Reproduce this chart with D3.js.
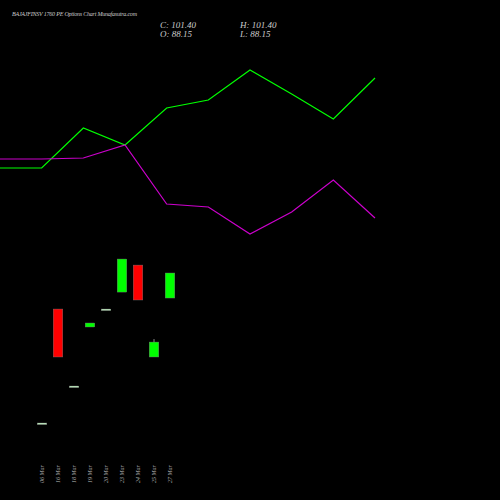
<!DOCTYPE html><html><head><script src="https://cdn.jsdelivr.net/npm/d3@7"></script>
<style>body{margin:0;background:#000}</style></head><body><svg width="500" height="500"></svg><script>
const dates=["06 Mar","16 Mar","18 Mar","19 Mar","20 Mar","23 Mar","24 Mar","25 Mar","27 Mar"];
const opens=[21.9,82.3,41.5,72.8,82.3,91.3,105.6,56.9,88.15];
const closes=[21.9,56.9,41.5,74.9,82.3,108.8,87.1,64.8,101.4];
const highs=[21.9,82.3,41.5,74.9,82.3,108.8,105.6,66.4,101.4];
const lows=[21.9,56.9,41.5,72.8,82.3,91.3,87.1,56.9,88.15];
const lineX=[0,1,2,3,4,5,6,7,8,9];
const greenLine=[332,332,372,355,392,400,430,406,381,422];
const magentaLine=[341,341,342,355,296,293,266,288,320,282];
const svg=d3.select("svg");
svg.append("rect").attr("width",500).attr("height",500).attr("fill","#000");
const x=d3.scaleBand().domain(dates).range([34,178]).paddingInner(0.4).paddingOuter(0.2);
const y=d3.scaleLinear().domain([-18.9,246.1]).range([500,0]);
const lx=d3.scaleLinear().domain([0,9]).range([0,375]);
const ly=d3.scaleLinear().domain([0,500]).range([500,0]);
const line=d3.line().x((d,i)=>lx(lineX[i])).y(d=>ly(d));
svg.append("path").datum(greenLine).attr("d",line).attr("fill","none").attr("stroke","#00ff00").attr("stroke-width",1.2);
svg.append("path").datum(magentaLine).attr("d",line).attr("fill","none").attr("stroke","#cc00cc").attr("stroke-width",1.2);
dates.forEach((d,i)=>{
 const cx=x(d)+x.bandwidth()/2;
 const up=closes[i]>=opens[i];
 const col=opens[i]===closes[i]?"#ccffcc":(up?"#00ff00":"#ff0000");
 svg.append("line").attr("x1",cx).attr("x2",cx).attr("y1",y(highs[i])).attr("y2",y(lows[i])).attr("stroke","#888");
 const t=y(Math.max(opens[i],closes[i])),b=y(Math.min(opens[i],closes[i]));
 svg.append("rect").attr("x",x(d)).attr("width",x.bandwidth()).attr("y",t).attr("height",Math.max(b-t,1.5)).attr("fill",col).attr("stroke","#777").attr("stroke-width",0.4);
 svg.append("text").attr("transform",`translate(${cx+2},483) rotate(-90)`).attr("fill","#aaa").attr("font-family","Liberation Serif").attr("font-style","italic").attr("font-size",6).text(d);
});
svg.append("text").attr("x",12).attr("y",16).attr("fill","#ccc").attr("font-family","Liberation Serif").attr("font-style","italic").attr("font-size",6).attr("textLength",125).text("BAJAJFINSV 1760  PE Options  Chart  Munafasutra.com");
const t=(s,xx,yy)=>svg.append("text").attr("x",xx).attr("y",yy).attr("fill","#ccc").attr("font-family","Liberation Serif").attr("font-style","italic").attr("font-size",9).text(s);
t("C: 101.40",160,28);t("O: 88.15",160,37);t("H: 101.40",240,28);t("L: 88.15",240,37);
</script></body></html>
